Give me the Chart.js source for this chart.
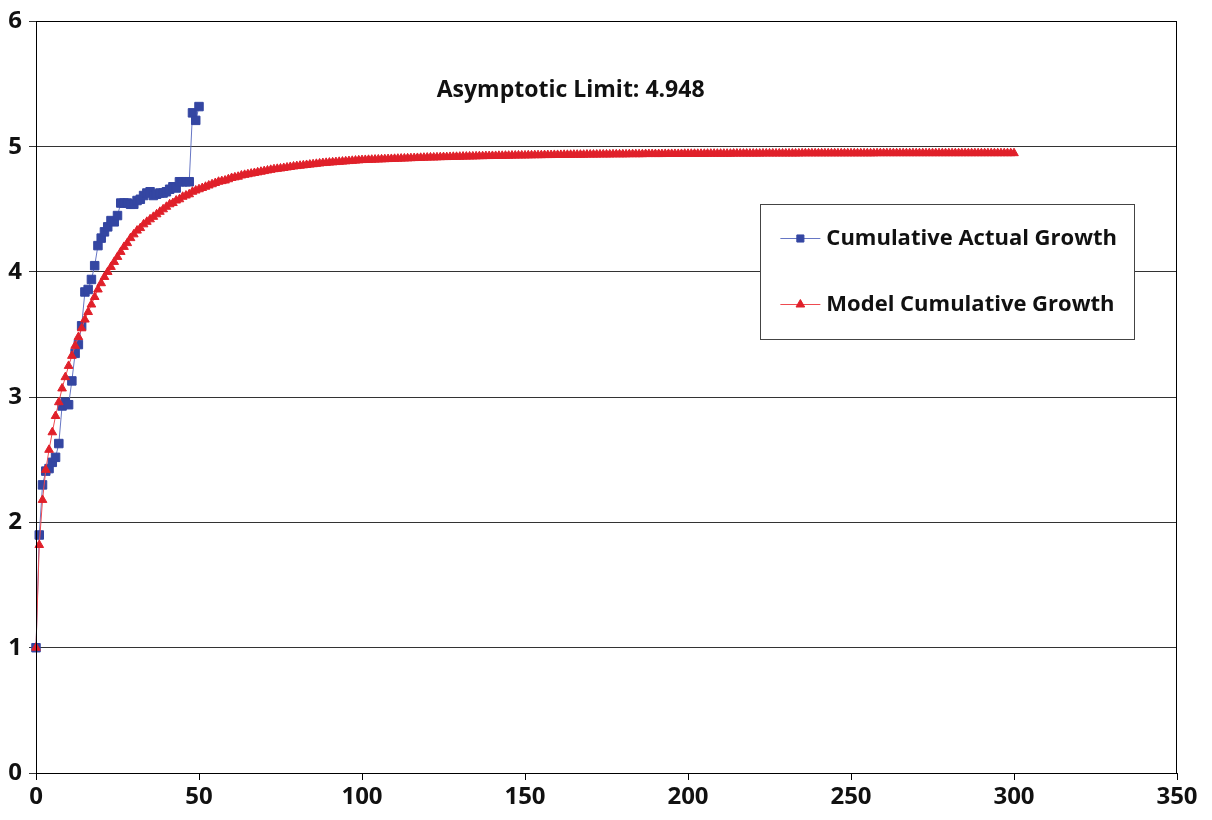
<!DOCTYPE html>
<html lang="en">
<head>
  <meta charset="UTF-8">
  <title>Cumulative Growth</title>
  <script src="https://cdn.jsdelivr.net/npm/chart.js"></script>
  <style>
    html, body {
      margin: 0;
      background: white;
    }
    #wrap {
      width: 1212px;
      height: 820px;
    }
  </style>
</head>
<body>
  <div id="wrap"><canvas id="growthChart"></canvas></div>

  <script>
    const xTicks = [0, 50, 100, 150, 200, 250, 300, 350];
    const yTicks = [0, 1, 2, 3, 4, 5, 6];
    const seriesNames = ["Cumulative Actual Growth", "Model Cumulative Growth"];
    const limitLabel = "Asymptotic Limit: 4.948";

    // observed values, one per step starting at step 0
    const actualGrowth = [
      1.00, 1.90, 2.30, 2.41, 2.43, 2.48, 2.52, 2.63, 2.93, 2.96,
      2.94, 3.13, 3.35, 3.42, 3.57, 3.84, 3.86, 3.94, 4.05, 4.21,
      4.27, 4.32, 4.36, 4.41, 4.40, 4.45, 4.55, 4.55, 4.55, 4.54,
      4.54, 4.57, 4.58, 4.61, 4.63, 4.64, 4.61, 4.62, 4.63, 4.63,
      4.64, 4.66, 4.68, 4.67, 4.72, 4.72, 4.72, 4.72, 5.27, 5.21,
      5.32
    ];

    // model values, one per step from 0 to 300
    const modelGrowth = [
      1.00, 1.82, 2.18, 2.42, 2.58, 2.72, 2.85, 2.96, 3.07, 3.16,
      3.25, 3.33, 3.41, 3.48, 3.55, 3.62, 3.68, 3.74, 3.80, 3.86,
      3.91, 3.96, 4.00, 4.04, 4.08, 4.12, 4.16, 4.20, 4.23, 4.27,
      4.30, 4.33, 4.35, 4.38, 4.40, 4.42, 4.44, 4.46, 4.48, 4.50,
      4.52, 4.54, 4.55, 4.57, 4.58, 4.60, 4.61, 4.62, 4.64, 4.65,
      4.66, 4.67, 4.68, 4.69, 4.70, 4.71, 4.72, 4.725, 4.73, 4.74,
      4.75, 4.755, 4.76, 4.77, 4.775, 4.78, 4.785, 4.79, 4.795, 4.80,
      4.805, 4.81, 4.815, 4.82, 4.823, 4.826, 4.83, 4.834, 4.838, 4.842,
      4.845, 4.848, 4.851, 4.854, 4.857, 4.86, 4.863, 4.866, 4.869, 4.871,
      4.873, 4.875, 4.877, 4.879, 4.881, 4.883, 4.885, 4.887, 4.889, 4.891,
      4.893, 4.894, 4.895, 4.896, 4.897, 4.898, 4.899, 4.900, 4.901, 4.902,
      4.903, 4.904, 4.905, 4.906, 4.907, 4.908, 4.909, 4.910, 4.911, 4.912,
      4.913, 4.914, 4.914, 4.915, 4.916, 4.917, 4.917, 4.918, 4.919, 4.919,
      4.920, 4.921, 4.921, 4.922, 4.922, 4.923, 4.924, 4.924, 4.925, 4.925,
      4.926, 4.926, 4.927, 4.927, 4.928, 4.928, 4.929, 4.929, 4.930, 4.930,
      4.930, 4.931, 4.931, 4.932, 4.932, 4.932, 4.933, 4.933, 4.933, 4.934,
      4.934, 4.934, 4.935, 4.935, 4.935, 4.936, 4.936, 4.936, 4.936, 4.937,
      4.937, 4.937, 4.937, 4.938, 4.938, 4.938, 4.938, 4.939, 4.939, 4.939,
      4.939, 4.939, 4.940, 4.940, 4.940, 4.940, 4.940, 4.941, 4.941, 4.941,
      4.941, 4.941, 4.941, 4.942, 4.942, 4.942, 4.942, 4.942, 4.942, 4.943,
      4.943, 4.943, 4.943, 4.943, 4.943, 4.943, 4.944, 4.944, 4.944, 4.944,
      4.944, 4.944, 4.944, 4.944, 4.945, 4.945, 4.945, 4.945, 4.945, 4.945,
      4.945, 4.945, 4.945, 4.946, 4.946, 4.946, 4.946, 4.946, 4.946, 4.946,
      4.946, 4.946, 4.946, 4.946, 4.946, 4.947, 4.947, 4.947, 4.947, 4.947,
      4.947, 4.947, 4.947, 4.947, 4.947, 4.947, 4.947, 4.947, 4.947, 4.947,
      4.947, 4.947, 4.947, 4.947, 4.947, 4.947, 4.947, 4.947, 4.948, 4.948,
      4.948, 4.948, 4.948, 4.948, 4.948, 4.948, 4.948, 4.948, 4.948, 4.948,
      4.948, 4.948, 4.948, 4.948, 4.948, 4.948, 4.948, 4.948, 4.948, 4.948,
      4.948, 4.948, 4.948, 4.948, 4.948, 4.948, 4.948, 4.948, 4.948, 4.948,
      4.948, 4.948, 4.948, 4.948, 4.948, 4.948, 4.948, 4.948, 4.948, 4.948,
      4.948
    ];

    const blueFill = "#3446a2";
    const blueLine = "#6676c4";
    const redFill = "#e0202a";
    const redLine = "#ee4a50";
    const fontFamily = "'Open Sans', Lato, sans-serif";

    function toPoints(values) {
      return values.map((v, i) => ({ x: i, y: v }));
    }

    // frame round the plot, the limit label and a boxed legend inside the plot
    const extrasPlugin = {
      id: "extras",
      afterDraw(chart) {
        const ctx = chart.ctx;
        const area = chart.chartArea;
        const xs = chart.scales.x;
        const ys = chart.scales.y;

        ctx.save();
        ctx.strokeStyle = "#000";
        ctx.lineWidth = 1;
        ctx.strokeRect(Math.round(area.left) + 0.5, Math.round(area.top) + 0.5,
          Math.round(area.right - area.left) - 1, Math.round(area.bottom - area.top));

        ctx.fillStyle = "#111";
        ctx.font = "bold 23px " + fontFamily;
        ctx.textAlign = "center";
        ctx.textBaseline = "middle";
        ctx.fillText(limitLabel, xs.getPixelForValue(164), ys.getPixelForValue(5.45));

        // legend box
        const bx = xs.getPixelForValue(222.2), by = ys.getPixelForValue(4.54);
        const bw = 374, bh = 135;
        ctx.fillStyle = "#fff";
        ctx.fillRect(bx, by, bw, bh);
        ctx.strokeStyle = "#444";
        ctx.strokeRect(Math.round(bx) + 0.5, Math.round(by) + 0.5, bw, bh);

        const rows = [
          { name: seriesNames[0], line: blueLine, fill: blueFill, style: "rect", r: 5, dy: 34 },
          { name: seriesNames[1], line: redLine, fill: redFill, style: "triangle", r: 5, dy: 100 }
        ];
        rows.forEach(row => {
          const cy = Math.round(by + row.dy) + 0.5;
          ctx.strokeStyle = row.line;
          ctx.lineWidth = 1;
          ctx.beginPath();
          ctx.moveTo(bx + 20, cy);
          ctx.lineTo(bx + 60, cy);
          ctx.stroke();
          ctx.fillStyle = row.fill;
          ctx.strokeStyle = row.fill;
          Chart.helpers.drawPoint(ctx, { pointStyle: row.style, radius: row.r, borderWidth: 1, rotation: 0 }, bx + 40, cy);
          ctx.fillStyle = "#111";
          ctx.font = "bold 22px " + fontFamily;
          ctx.textAlign = "left";
          ctx.textBaseline = "middle";
          ctx.fillText(row.name, bx + 66, cy);
        });
        ctx.restore();
      }
    };

    const ctx = document.getElementById("growthChart").getContext("2d");

    new Chart(ctx, {
      type: "scatter",
      data: {
        datasets: [
          {
            label: seriesNames[0],
            data: toPoints(actualGrowth),
            showLine: true,
            borderColor: blueLine,
            borderWidth: 1,
            pointStyle: "rect",
            pointRadius: 6,
            pointBackgroundColor: blueFill,
            pointBorderColor: blueFill,
            pointBorderWidth: 1,
            clip: false,
            order: 1
          },
          {
            label: seriesNames[1],
            data: toPoints(modelGrowth),
            showLine: true,
            borderColor: redLine,
            borderWidth: 1,
            pointStyle: "triangle",
            pointRadius: 5,
            pointBackgroundColor: redFill,
            pointBorderColor: redFill,
            pointBorderWidth: 1,
            clip: false,
            order: 0
          }
        ]
      },
      options: {
        animation: false,
        responsive: true,
        maintainAspectRatio: false,
        layout: {
          padding: { top: 20, right: 35, left: 0, bottom: 0 }
        },
        scales: {
          x: {
            type: "linear",
            min: 0,
            max: 350,
            afterBuildTicks: scale => { scale.ticks = xTicks.map(v => ({ value: v })); },
            afterFit: scale => { scale.height = 47; },
            grid: {
              drawOnChartArea: false,
              drawTicks: true,
              tickLength: 7,
              color: "#000"
            },
            border: { color: "#000", width: 1 },
            ticks: {
              color: "#111",
              padding: 3,
              maxRotation: 0,
              font: { family: fontFamily, size: 24, weight: "bold" }
            }
          },
          y: {
            min: 0,
            max: 6,
            afterBuildTicks: scale => { scale.ticks = yTicks.map(v => ({ value: v })); },
            afterFit: scale => { scale.width = 36; },
            grid: {
              drawTicks: true,
              tickLength: 7,
              color: "#333"
            },
            border: { color: "#000", width: 1 },
            ticks: {
              color: "#111",
              padding: 7,
              font: { family: fontFamily, size: 24, weight: "bold" }
            }
          }
        },
        plugins: {
          legend: { display: false },
          tooltip: { enabled: false }
        }
      },
      plugins: [extrasPlugin]
    });
  </script>
</body>
</html>
